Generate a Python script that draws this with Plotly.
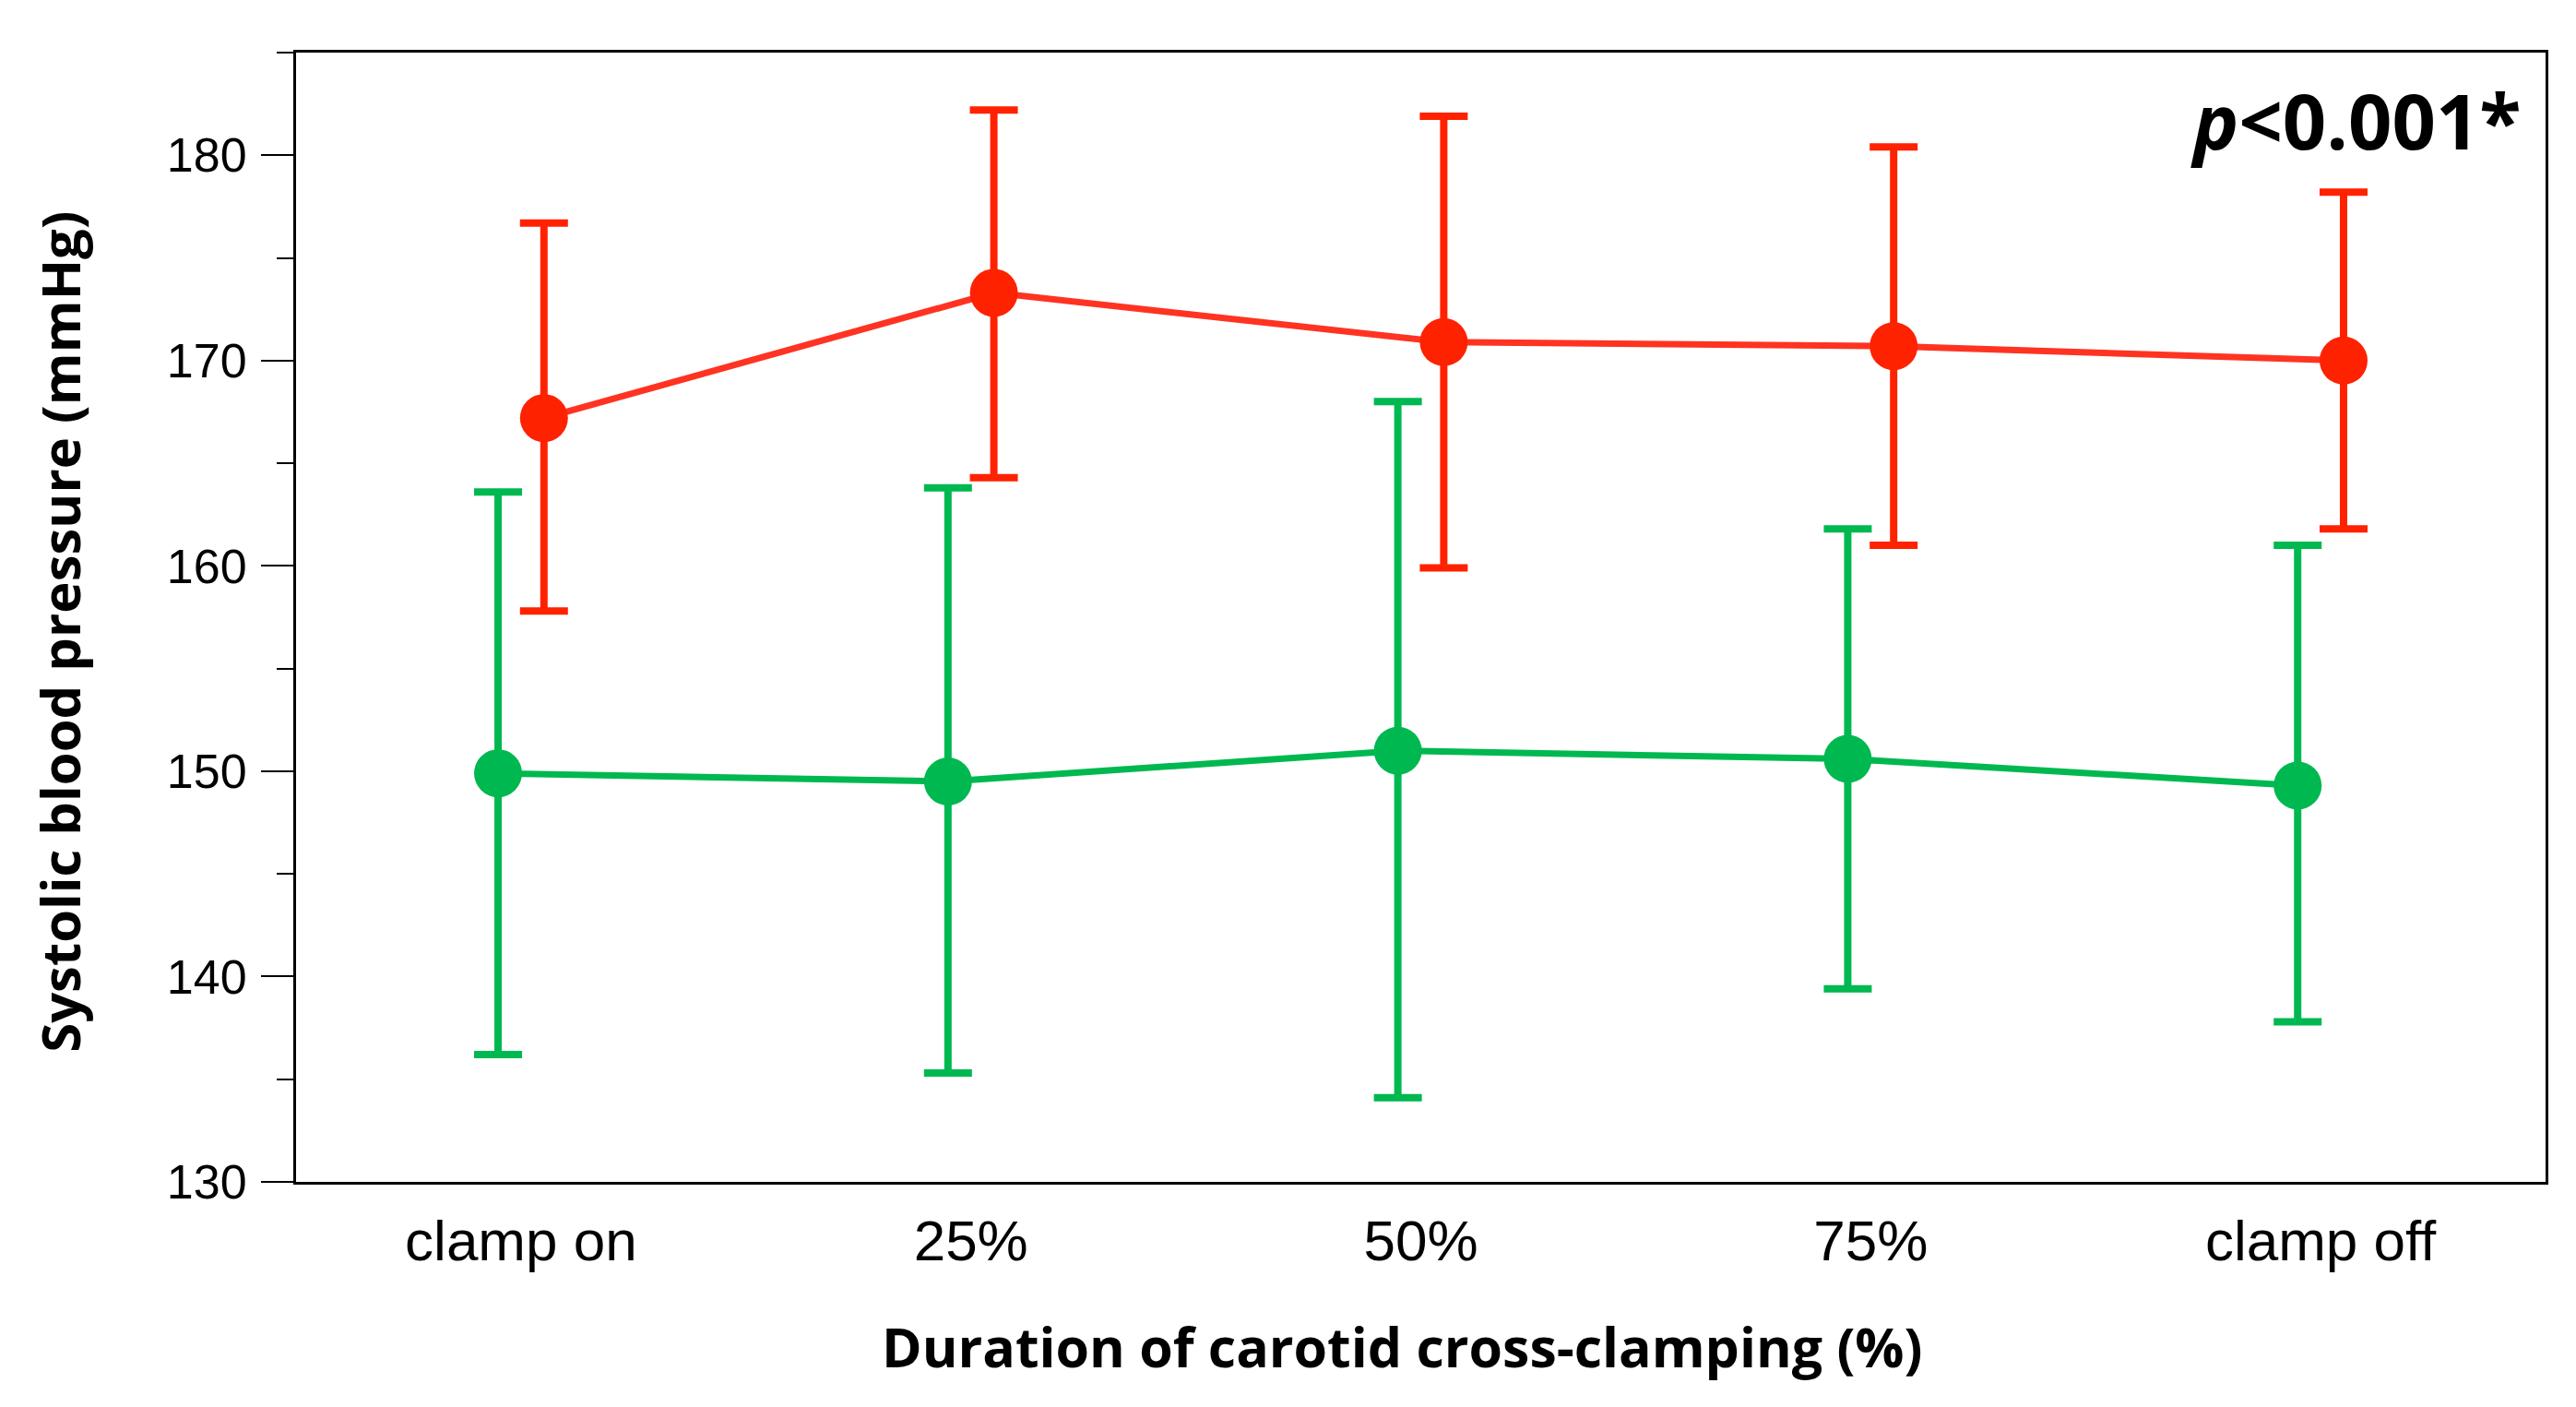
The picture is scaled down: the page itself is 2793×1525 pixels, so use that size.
import plotly.graph_objects as go

categories = ["clamp on", "25%", "50%", "75%", "clamp off"]
x_idx = [0, 1, 2, 3, 4]

red_mean = [167.2, 173.3, 170.9, 170.7, 170.0]
red_upper = [176.7, 182.2, 181.9, 180.4, 178.2]
red_lower = [157.8, 164.3, 159.9, 161.0, 161.8]

green_mean = [149.9, 149.5, 151.0, 150.6, 149.3]
green_upper = [163.6, 163.8, 168.0, 161.8, 161.0]
green_lower = [136.2, 135.3, 134.1, 139.4, 137.8]

y_ticks = [130, 140, 150, 160, 170, 180]
x_extra_ticks = [0.5, 1.5]

offset = 0.051
RED = "#ff2200"
RED_LINE = "#ff3322"
GREEN = "#00b850"

def series(mean, upper, lower, dx, color, line_color):
    return go.Scatter(
        x=[i + dx for i in x_idx],
        y=mean,
        mode="lines+markers",
        line=dict(color=line_color, width=7),
        marker=dict(color=color, size=52, line=dict(width=0)),
        error_y=dict(
            type="data", symmetric=False,
            array=[u - m for u, m in zip(upper, mean)],
            arrayminus=[m - l for m, l in zip(mean, lower)],
            color=color, thickness=8, width=26,
        ),
        showlegend=False,
    )

fig = go.Figure()
fig.add_trace(series(green_mean, green_upper, green_lower, -offset, GREEN, GREEN))
fig.add_trace(series(red_mean, red_upper, red_lower, offset, RED, RED_LINE))

fig.update_layout(
    width=2793, height=1525,
    margin=dict(l=313, r=41, t=49, b=252),
    paper_bgcolor="white", plot_bgcolor="white",
    font=dict(family="Liberation Sans, Arial", color="black"),
    xaxis=dict(
        range=[-0.5, 4.5], tickvals=x_idx, ticktext=categories,
        ticks="", tickfont=dict(size=62, family="Liberation Sans, Arial"),
        showline=True, linecolor="black", linewidth=3, mirror=True,
        showgrid=False, zeroline=False, ticklabelstandoff=8,
    ),
    xaxis2=dict(
        overlaying="x", anchor="y", side="bottom", matches="x",
        range=[-0.5, 4.5], tickvals=x_extra_ticks, showticklabels=False,
        ticks="outside", ticklen=17, tickwidth=2, tickcolor="black",
        showline=False, showgrid=False, zeroline=False,
    ),
    yaxis=dict(
        range=[130, 185], tickvals=y_ticks,
        ticks="outside", ticklen=35, tickwidth=2, tickcolor="black",
        minor=dict(dtick=5, tick0=130, ticks="outside", ticklen=18, tickwidth=2, tickcolor="black", showgrid=False),
        tickfont=dict(size=52, family="Liberation Sans, Arial"),
        showline=True, linecolor="black", linewidth=3, mirror=True,
        showgrid=False, zeroline=False, ticklabelstandoff=5,
    ),
    annotations=[
        dict(text="<b><i>p</i>&lt;0.001*</b>", xref="paper", yref="paper",
             x=0.99, y=0.941, xanchor="right", yanchor="middle", showarrow=False,
             font=dict(size=83, family="Open Sans", color="black")),
        dict(text="<b>Systolic blood pressure (mmHg)</b>", xref="paper", yref="paper",
             x=-0.105, y=0.487, xanchor="center", yanchor="middle", textangle=-90,
             showarrow=False, font=dict(size=58, family="Open Sans", color="black")),
        dict(text="<b>Duration of carotid cross-clamping (%)</b>", xref="paper", yref="paper",
             x=0.4916, y=-0.1454, xanchor="center", yanchor="middle",
             showarrow=False, font=dict(size=59, family="Open Sans", color="black")),
    ],
)

fig.write_html("out.html")
